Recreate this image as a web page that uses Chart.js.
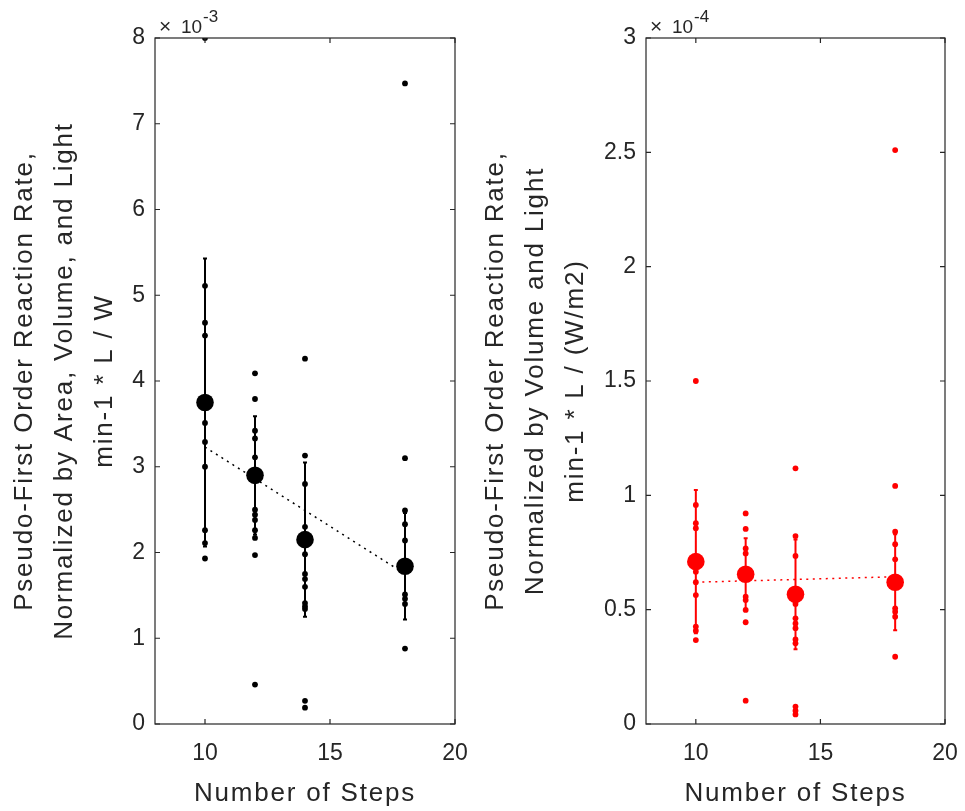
<!DOCTYPE html>
<html><head><meta charset="utf-8">
<script src="https://cdn.jsdelivr.net/npm/chart.js@4.4.1/dist/chart.umd.min.js"></script>
<style>
html,body{margin:0;padding:0;background:#fff;width:965px;height:811px;overflow:hidden;}
#left{position:absolute;left:0;top:0;}
#right{position:absolute;left:476px;top:0;}
</style></head>
<body>
<canvas id="left" width="476" height="811"></canvas>
<canvas id="right" width="489" height="811"></canvas>
<script>
// ---------- data ----------
const steps = [10, 12, 14, 18];
const xTicks = [10, 15, 20];
const leftYTicks = [0, 1, 2, 3, 4, 5, 6, 7, 8];
const rightYTicks = [0, 0.5, 1, 1.5, 2, 2.5, 3];

// Left panel: rate normalized by area, volume and light (x10^-3)
const areaRate10 = [8.0, 5.11, 4.68, 4.53, 3.51, 3.29, 3.00, 2.26, 2.11, 1.93];
const areaRate12 = [4.09, 3.79, 3.42, 3.33, 3.11, 2.50, 2.44, 2.38, 2.26, 2.17, 1.97, 0.46];
const areaRate14 = [4.26, 3.13, 2.80, 2.30, 1.98, 1.75, 1.69, 1.60, 1.41, 1.37, 1.34, 0.27, 0.19];
const areaRate18 = [7.47, 3.10, 2.49, 2.33, 2.14, 1.51, 1.46, 1.40, 0.88];
const areaMean = [3.75, 2.90, 2.15, 1.84];
const areaErr = [1.68, 0.69, 0.90, 0.62];
const fitX = [10, 18];
const areaFitY = [3.23, 1.75];

// Right panel: rate normalized by volume and light (x10^-4)
const volRate10 = [1.50, 0.958, 0.878, 0.856, 0.666, 0.620, 0.564, 0.426, 0.408, 0.367];
const volRate12 = [0.921, 0.853, 0.768, 0.746, 0.557, 0.542, 0.499, 0.445, 0.102];
const volRate14 = [1.118, 0.822, 0.735, 0.525, 0.462, 0.440, 0.419, 0.370, 0.353, 0.076, 0.058, 0.042];
const volRate18 = [2.51, 1.041, 0.841, 0.786, 0.720, 0.506, 0.491, 0.469, 0.294];
const volMean = [0.71, 0.655, 0.567, 0.62];
const volErr = [0.313, 0.157, 0.24, 0.21];
const volFitY = [0.62, 0.644];

const leftTitle = ['Pseudo-First Order Reaction Rate,', 'Normalized by Area, Volume, and Light', 'min-1 * L / W'];
const rightTitle = ['Pseudo-First Order Reaction Rate,', 'Normalized by Volume and Light', 'min-1 * L / (W/m2)'];
const xTitle = 'Number of Steps';

// ---------- styling ----------
const FONT = "'Liberation Sans', Arial, sans-serif";
const TXT = '#262626';
const CAP = 0.08;

const framePlugin = {
  id: 'frame',
  beforeDraw(chart) { chart.ctx.letterSpacing = '1.8px'; },
  beforeDatasetsDraw(chart) { chart.ctx.letterSpacing = '0px'; },
  afterDraw(chart, args, opts) {
    const {ctx, chartArea: a, scales: {x, y}} = chart;
    ctx.save();
    ctx.letterSpacing = '0px';
    ctx.strokeStyle = TXT;
    ctx.lineWidth = 1.2;
    ctx.strokeRect(a.left, a.top, a.right - a.left, a.bottom - a.top);
    ctx.beginPath();
    const L = 5;
    opts.xTicks.forEach(v => {
      const px = x.getPixelForValue(v);
      ctx.moveTo(px, a.bottom); ctx.lineTo(px, a.bottom - L);
      ctx.moveTo(px, a.top); ctx.lineTo(px, a.top + L);
    });
    opts.yTicks.forEach(v => {
      const py = y.getPixelForValue(v);
      ctx.moveTo(a.left, py); ctx.lineTo(a.left + L, py);
      ctx.moveTo(a.right, py); ctx.lineTo(a.right - L, py);
    });
    ctx.stroke();
    // exponent label
    ctx.fillStyle = TXT;
    ctx.textBaseline = 'alphabetic';
    ctx.textAlign = 'left';
    const x0 = a.left + 4;
    ctx.font = '21px ' + FONT;
    ctx.fillText('\u00d7', x0, 33);
    ctx.font = '19px ' + FONT;
    ctx.fillText('10', x0 + 22, 33);
    ctx.font = '17px ' + FONT;
    ctx.fillText(opts.exp, x0 + 44, 22);
    ctx.restore();
  }
};

function makePanel(id, o) {
  const ds = [];
  ds.push({
    label: 'mean', data: steps.map((s, i) => ({x: s, y: o.mean[i]})),
    pointRadius: 8.8, pointBackgroundColor: o.color, pointBorderColor: o.color, pointBorderWidth: 0, order: 1
  });
  const eb = [];
  steps.forEach((s, i) => {
    const lo = o.mean[i] - o.err[i], hi = o.mean[i] + o.err[i];
    eb.push({x: s - CAP, y: lo}, {x: s + CAP, y: lo}, {x: s, y: lo}, {x: s, y: hi},
            {x: s - CAP, y: hi}, {x: s + CAP, y: hi}, {x: s, y: null});
  });
  ds.push({label: 'err', data: eb, showLine: true, spanGaps: false, pointRadius: 0,
    borderColor: o.color, borderWidth: 2, order: 2});
  ds.push({label: 'fit', data: fitX.map((x, i) => ({x, y: o.fit[i]})), showLine: true, pointRadius: 0,
    borderColor: o.color, borderWidth: 1.5, borderDash: [2, 4.5], order: 3});
  const raw = [];
  o.raw.forEach((arr, i) => arr.forEach(v => raw.push({x: steps[i], y: v})));
  ds.push({label: 'raw', data: raw, pointRadius: 2.9, pointBackgroundColor: o.color,
    pointBorderColor: o.color, pointBorderWidth: 0, clip: 0, order: 4});

  return new Chart(document.getElementById(id), {
    type: 'scatter',
    data: {datasets: ds},
    plugins: [framePlugin],
    options: {
      responsive: false, animation: false, events: [],
      layout: {autoPadding: false, padding: {top: 38, right: o.padRight, left: 0, bottom: 0}},
      plugins: {legend: {display: false}, tooltip: {enabled: false},
        frame: {xTicks: xTicks, yTicks: o.yTicks, exp: o.exp}},
      scales: {
        x: {
          type: 'linear', min: 8, max: 20,
          afterBuildTicks: s => { s.ticks = xTicks.map(v => ({value: v})); },
          grid: {display: false, drawTicks: true, tickLength: 16}, border: {display: false},
          ticks: {font: {family: FONT, size: 23}, color: TXT, padding: 0, z: 1, maxRotation: 0,
            callback: v => String(v)},
          title: {display: true, text: xTitle, color: TXT, font: {family: FONT, size: 26},
            padding: {top: 0, bottom: 2}},
          afterFit: s => { s.height = 87; }
        },
        y: {
          type: 'linear', min: 0, max: o.yMax,
          afterBuildTicks: s => { s.ticks = o.yTicks.map(v => ({value: v})); },
          grid: {display: false, drawTicks: true, tickLength: 10}, border: {display: false},
          ticks: {font: {family: FONT, size: 23}, color: TXT, padding: 0, z: 1,
            callback: v => String(v)},
          title: {display: true, text: o.title, color: TXT,
            font: {family: FONT, size: 26, lineHeight: '40px'}, padding: {top: o.titlePad, bottom: 0}},
          afterFit: s => { s.width = o.axisWidth; }
        }
      }
    }
  });
}

makePanel('left', {
  color: '#000000', mean: areaMean, err: areaErr, fit: areaFitY,
  raw: [areaRate10, areaRate12, areaRate14, areaRate18],
  yMax: 8, yTicks: leftYTicks, exp: '-3', title: leftTitle,
  axisWidth: 155, padRight: 21, titlePad: 5
});
makePanel('right', {
  color: '#ff0000', mean: volMean, err: volErr, fit: volFitY,
  raw: [volRate10, volRate12, volRate14, volRate18],
  yMax: 3, yTicks: rightYTicks, exp: '-4', title: rightTitle,
  axisWidth: 170, padRight: 20, titlePad: 0
});
</script>
</body></html>
